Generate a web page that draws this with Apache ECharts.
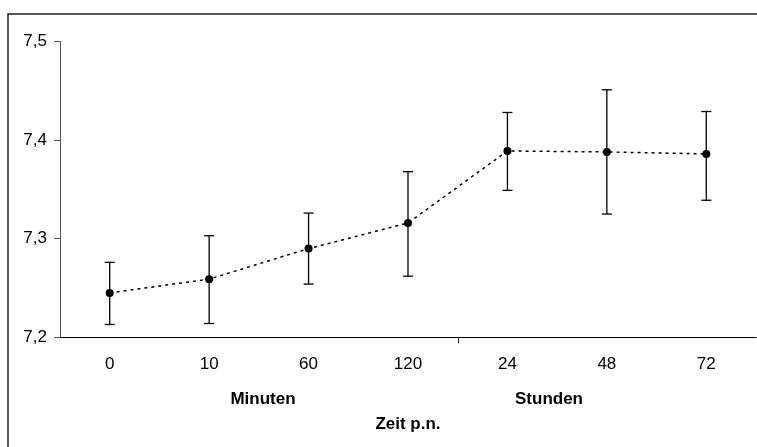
<!DOCTYPE html>
<html><head><meta charset="utf-8">
<script src="https://cdn.jsdelivr.net/npm/echarts@6/dist/echarts.min.js"></script>
<style>html,body{margin:0;padding:0;background:#fff}#c{width:757px;height:447px}</style>
</head><body><div id="c"></div>
<script>
var categories = ['0', '10', '60', '120', '24', '48', '72'];
var means = [7.245, 7.259, 7.290, 7.316, 7.389, 7.388, 7.386];
var upper = [7.276, 7.303, 7.326, 7.368, 7.428, 7.451, 7.429];
var lower = [7.213, 7.214, 7.254, 7.262, 7.349, 7.325, 7.339];
var yTicks = [7.2, 7.3, 7.4, 7.5];
var groupSplitIndex = 4; // boundary between Minuten and Stunden groups

var FONT = '"Liberation Sans", Arial, sans-serif';
var chart = echarts.init(document.getElementById('c'), null, {renderer: 'canvas'});
var errData = categories.map(function (c, i) { return [i, lower[i], upper[i]]; });

chart.setOption({
  animation: false,
  backgroundColor: '#fff',
  grid: {left: 60, right: 1, top: 41.5, bottom: 109.7, containLabel: false},
  xAxis: {
    type: 'category', data: categories, boundaryGap: true,
    axisLine: {lineStyle: {color: '#000', width: 1.2}},
    axisTick: {show: false},
    axisLabel: {interval: 0, margin: 19, fontSize: 17, color: '#000', fontFamily: FONT},
    splitLine: {show: false}
  },
  yAxis: {
    type: 'value', min: 7.2, max: 7.5, interval: 0.1,
    axisLine: {show: true, lineStyle: {color: '#555', width: 1}},
    axisTick: {show: true, length: 6, lineStyle: {color: '#555'}},
    axisLabel: {margin: 13, fontSize: 17, color: '#000', fontFamily: FONT,
      formatter: function (v) { return v.toFixed(1).replace('.', ','); }},
    splitLine: {show: false}
  },
  series: [
    {
      type: 'custom', data: errData, z: 3, clip: false,
      renderItem: function (params, api) {
        var x = api.value(0);
        var lo = api.coord([x, api.value(1)]);
        var hi = api.coord([x, api.value(2)]);
        var hw = 5;
        var st = {stroke: '#000', lineWidth: 1.3};
        var children = [
          {type: 'line', shape: {x1: lo[0], y1: lo[1], x2: hi[0], y2: hi[1]}, style: st},
          {type: 'line', shape: {x1: lo[0] - hw, y1: lo[1], x2: lo[0] + hw, y2: lo[1]}, style: st},
          {type: 'line', shape: {x1: hi[0] - hw, y1: hi[1], x2: hi[0] + hw, y2: hi[1]}, style: st}
        ];
        if (params.dataIndex === groupSplitIndex) {
          var bw = api.size([1, 0])[0];
          var base = api.coord([x, 7.2]);
          var bx = Math.round(base[0] - bw / 2) + 0.5;
          children.push({type: 'line', shape: {x1: bx, y1: base[1], x2: bx, y2: base[1] + 6}, style: {stroke: '#000', lineWidth: 1}});
        }
        return {type: 'group', children: children};
      }
    },
    {
      type: 'line', data: means, z: 4,
      symbol: 'circle', symbolSize: 8,
      itemStyle: {color: '#000'},
      lineStyle: {color: '#000', width: 1.5, type: [3, 4]}
    }
  ],
  graphic: [
    {type: 'rect', shape: {x: 8, y: 14, width: 760, height: 450}, style: {fill: 'none', stroke: '#222', lineWidth: 1.5}, silent: true},
    {type: 'text', x: 263, y: 399, style: {text: 'Minuten', font: 'bold 17px ' + FONT, fill: '#000', textAlign: 'center', textVerticalAlign: 'middle'}},
    {type: 'text', x: 549, y: 399, style: {text: 'Stunden', font: 'bold 17px ' + FONT, fill: '#000', textAlign: 'center', textVerticalAlign: 'middle'}},
    {type: 'text', x: 408, y: 424, style: {text: 'Zeit p.n.', font: 'bold 17px ' + FONT, fill: '#000', textAlign: 'center', textVerticalAlign: 'middle'}}
  ]
});
</script></body></html>
